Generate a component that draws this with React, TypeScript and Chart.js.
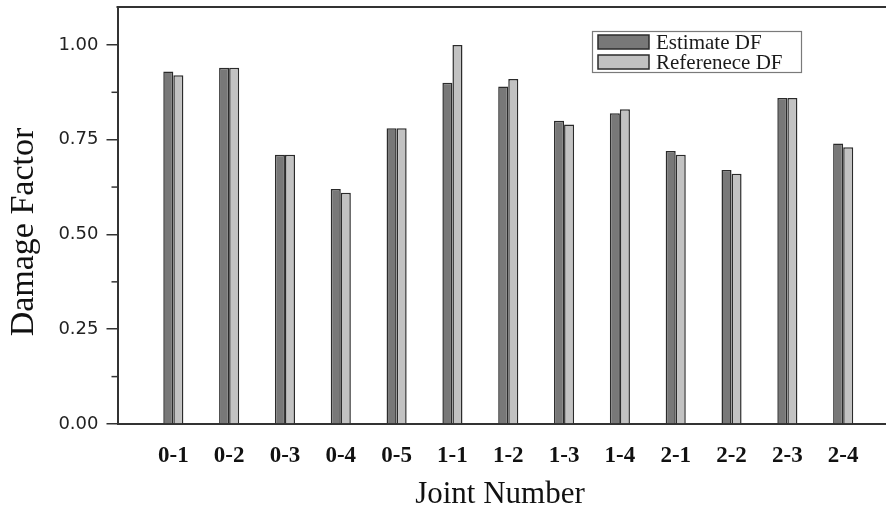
import React, { useEffect, useRef } from 'react';
import { Chart, registerables } from 'chart.js';

Chart.register(...registerables);

const categories = ['0-1', '0-2', '0-3', '0-4', '0-5', '1-1', '1-2', '1-3', '1-4', '2-1', '2-2', '2-3', '2-4'];
const estimateDF = [0.93, 0.94, 0.71, 0.62, 0.78, 0.9, 0.89, 0.8, 0.82, 0.72, 0.67, 0.86, 0.74];
const referenceDF = [0.92, 0.94, 0.71, 0.61, 0.78, 1.0, 0.91, 0.79, 0.83, 0.71, 0.66, 0.86, 0.73];
const yMajorTicks = [0, 0.25, 0.5, 0.75, 1.0];
const yMinorTicks = [0.125, 0.375, 0.625, 0.875];
const yMin = 0;
const yMax = 1.1;
const seriesNames = ['Estimate DF', 'Referenece DF'];

const ESTIMATE_COLOR = '#787878';
const REFERENCE_COLOR = '#c2c2c2';
const EDGE = '#2b2b2b';
const AXIS = '#333333';

export default function App() {
  const ref = useRef<HTMLCanvasElement>(null);

  useEffect(() => {
    const canvas = ref.current!;
    const labels = ['', ...categories, ''];

    const decorPlugin = {
      id: 'decor',
      afterDraw(chart: any) {
        const { ctx, chartArea: a, scales } = chart;
        const y = scales.y;
        ctx.save();
        // top frame line
        ctx.strokeStyle = AXIS;
        ctx.lineWidth = 2;
        ctx.beginPath();
        ctx.moveTo(a.left - 1, a.top);
        ctx.lineTo(a.right + 20, a.top);
        ctx.stroke();
        // minor ticks
        ctx.lineWidth = 1.5;
        for (const v of yMinorTicks) {
          const py = y.getPixelForValue(v);
          ctx.beginPath();
          ctx.moveTo(a.left - 6, py);
          ctx.lineTo(a.left, py);
          ctx.stroke();
        }
        // legend
        ctx.strokeStyle = '#7a7a7a';
        ctx.lineWidth = 1.2;
        ctx.strokeRect(592.5, 31.5, 209, 41);
        const colors = [ESTIMATE_COLOR, REFERENCE_COLOR];
        const rowTop = [35, 55];
        ctx.font = '21px "Liberation Serif"';
        ctx.textAlign = 'left';
        ctx.textBaseline = 'middle';
        for (let i = 0; i < 2; i++) {
          ctx.fillStyle = colors[i];
          ctx.fillRect(598, rowTop[i], 51, 14);
          ctx.strokeStyle = EDGE;
          ctx.lineWidth = 1.5;
          ctx.strokeRect(598, rowTop[i], 51, 14);
          ctx.fillStyle = '#1a1a1a';
          ctx.fillText(seriesNames[i], 656, rowTop[i] + 8);
        }
        // axis titles
        ctx.fillStyle = '#111';
        ctx.font = '31px "Liberation Serif"';
        ctx.textAlign = 'center';
        ctx.textBaseline = 'alphabetic';
        ctx.fillText('Joint Number', 500, 503);
        ctx.save();
        ctx.translate(33, 232);
        ctx.rotate(-Math.PI / 2);
        ctx.font = '34px "Liberation Serif"';
        ctx.fillText('Damage Factor', 0, 0);
        ctx.restore();
        ctx.restore();
      },
    };

    const chart = new Chart(canvas, {
      type: 'bar',
      data: {
        labels,
        datasets: [
          {
            label: seriesNames[0],
            data: [null, ...estimateDF, null],
            backgroundColor: ESTIMATE_COLOR,
            borderColor: EDGE,
            borderWidth: 1.5,
            categoryPercentage: 0.36,
            barPercentage: 1.0,
          },
          {
            label: seriesNames[1],
            data: [null, ...referenceDF, null],
            backgroundColor: REFERENCE_COLOR,
            borderColor: EDGE,
            borderWidth: 1.5,
            categoryPercentage: 0.36,
            barPercentage: 1.0,
          },
        ],
      },
      options: {
        responsive: false,
        animation: false,
        devicePixelRatio: 1,
        layout: { padding: { top: 7, left: 0, right: 0, bottom: 0 } },
        plugins: {
          legend: { display: false },
          tooltip: { enabled: false },
          title: { display: false },
        },
        scales: {
          x: {
            type: 'category',
            offset: false,
            grid: { display: false, drawTicks: false },
            border: { display: true, color: AXIS, width: 2 },
            ticks: {
              autoSkip: false,
              maxRotation: 0,
              padding: 18,
              color: '#111',
              font: { family: '"Liberation Serif"', size: 23, weight: 'bold' },
            },
            afterFit(scale: any) {
              scale.height = 85;
              scale.paddingLeft = 0;
              scale.paddingRight = 0;
            },
          },
          y: {
            min: yMin,
            max: yMax,
            grid: {
              drawOnChartArea: false,
              drawTicks: true,
              tickLength: 11,
              color: AXIS,
              lineWidth: 1.5,
            },
            border: { display: true, color: AXIS, width: 2 },
            ticks: {
              padding: 8,
              color: '#222',
              font: { family: '"DejaVu Sans"', size: 18 },
              callback: (v: any) => Number(v).toFixed(2),
            },
            afterBuildTicks(axis: any) {
              axis.ticks = yMajorTicks.map((v) => ({ value: v }));
            },
            afterFit(scale: any) {
              scale.width = 117.5;
              scale.paddingTop = 0;
              scale.paddingBottom = 0;
            },
          },
        },
      },
      plugins: [decorPlugin],
    } as any);

    return () => chart.destroy();
  }, []);

  return (
    <div style={{ position: 'fixed', left: 0, top: 0, width: 886, height: 509, overflow: 'hidden', background: '#fff' }}>
      <canvas ref={ref} width={899} height={509} style={{ display: 'block', width: 899, height: 509 }} />
    </div>
  );
}
